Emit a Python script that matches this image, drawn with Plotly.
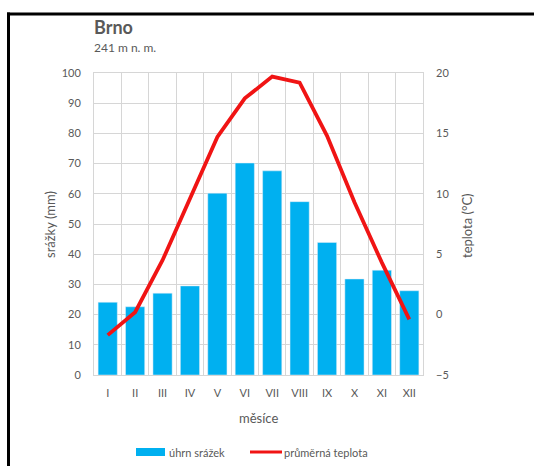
import plotly.graph_objects as go

months = ["I", "II", "III", "IV", "V", "VI", "VII", "VIII", "IX", "X", "XI", "XII"]
precip_mm = [24.1, 22.6, 27.1, 29.5, 60.2, 70.2, 67.6, 57.4, 43.9, 31.8, 34.7, 27.9]
temp_c = [-1.7, 0.2, 4.5, 9.6, 14.7, 17.9, 19.7, 19.2, 14.8, 9.3, 4.3, -0.4]
y_ticks = [0, 10, 20, 30, 40, 50, 60, 70, 80, 90, 100]
y2_ticks = [-5, 0, 5, 10, 15, 20]

FONT = "Lato"
GREY = "#595959"
GRID = "#d6d6d6"
BLUE = "#00B0F0"
RED = "#F01414"

W, H = 534, 466
PL, PR, PT, PB = 94, 423, 73, 375  # plot area in page pixels
L, T = PL, PT
R, B = W - PR, H - PB
PW, PH = PR - PL, PB - PT


def px(x):
    return (x - PL) / PW


def py(y):
    return (PB - y) / PH


fig = go.Figure()
fig.add_trace(go.Bar(x=months, y=precip_mm, marker_color=BLUE, name="úhrn srážek",
                     yaxis="y", showlegend=False))
fig.add_trace(go.Scatter(x=months, y=temp_c, mode="lines", line=dict(color=RED, width=3.8),
                         name="průměrná teplota", yaxis="y2", showlegend=False))

fig.update_layout(
    width=W, height=H,
    margin=dict(l=L, r=R, t=T, b=B, autoexpand=False),
    paper_bgcolor="white", plot_bgcolor="white",
    font=dict(family=FONT, color=GREY, size=11),
    bargap=0.3,
    hovermode=False,
    xaxis=dict(type="category", tickson="boundaries", showgrid=True, gridcolor=GRID,
               gridwidth=1, ticks="", showline=True, linecolor=GRID, mirror=True,
               tickfont=dict(size=11, color=GREY), ticklabelstandoff=8, zeroline=False),
    yaxis=dict(range=[0, 100], tickvals=y_ticks, showgrid=True, gridcolor=GRID,
               showline=True, linecolor=GRID, mirror=True, zeroline=False, ticks="",
               tickfont=dict(size=11, color=GREY), ticklabelstandoff=10),
    yaxis2=dict(range=[-5, 20], tickvals=y2_ticks, overlaying="y", side="right",
                showgrid=False, zeroline=False, ticks="", showline=False,
                tickfont=dict(size=11, color=GREY), ticklabelstandoff=12),
    showlegend=False,
)

ann = [
    dict(text="<b>Brno</b>", x=px(92), y=py(27), xanchor="left", yanchor="middle",
         font=dict(size=18, color=GREY)),
    dict(text="241 m n. m.", x=px(92), y=py(48), xanchor="left", yanchor="middle",
         font=dict(size=12, color=GREY)),
    dict(text="srážky (mm)", x=px(50), y=py(225), textangle=-90, xanchor="center",
         yanchor="middle", font=dict(size=13, color=GREY)),
    dict(text="teplota (°C)", x=px(467), y=py(225), textangle=-90, xanchor="center",
         yanchor="middle", font=dict(size=13, color=GREY)),
    dict(text="měsíce", x=px(258), y=py(418), xanchor="center", yanchor="middle",
         font=dict(size=13, color=GREY)),
    dict(text="úhrn srážek", x=px(167), y=py(452), xanchor="left", yanchor="middle",
         font=dict(size=11, color=GREY)),
    dict(text="průměrná teplota", x=px(282), y=py(452), xanchor="left", yanchor="middle",
         font=dict(size=11, color=GREY)),
]
for a in ann:
    a.update(xref="paper", yref="paper", showarrow=False)
    fig.add_annotation(**a)

shapes = [
    # legend symbols
    dict(type="rect", x0=px(136), x1=px(165), y0=py(448), y1=py(456),
         fillcolor=BLUE, line=dict(width=0)),
    dict(type="line", x0=px(250), x1=px(282), y0=py(452), y1=py(452),
         line=dict(color=RED, width=3)),
    # frame (top and left edges), kept inside the figure
    dict(type="line", x0=px(7), x1=px(534), y0=py(14), y1=py(14),
         line=dict(color="black", width=3)),
    dict(type="line", x0=px(8.5), x1=px(8.5), y0=py(12.5), y1=py(466),
         line=dict(color="black", width=3)),
]
for s in shapes:
    s.update(xref="paper", yref="paper", layer="above")
    fig.add_shape(**s)

fig.write_html(
    "out.html",
    config={"displayModeBar": False, "staticPlot": True},
    post_script="document.body.style.margin='0';document.body.style.overflow='hidden';"
                "document.documentElement.style.overflow='hidden';",
)
